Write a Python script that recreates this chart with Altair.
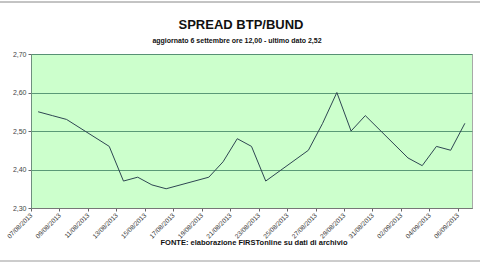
import altair as alt
import pandas as pd

dates = ["2013-08-07", "2013-08-08", "2013-08-09", "2013-08-12", "2013-08-13", "2013-08-14",
         "2013-08-15", "2013-08-16", "2013-08-19", "2013-08-20", "2013-08-21", "2013-08-22",
         "2013-08-23", "2013-08-26", "2013-08-27", "2013-08-28", "2013-08-29", "2013-08-30",
         "2013-09-02", "2013-09-03", "2013-09-04", "2013-09-05", "2013-09-06"]
spread = [2.55, 2.54, 2.53, 2.46, 2.37, 2.38,
          2.36, 2.35, 2.38, 2.42, 2.48, 2.46,
          2.37, 2.45, 2.52, 2.60, 2.50, 2.54,
          2.43, 2.41, 2.46, 2.45, 2.52]

title_text = "SPREAD BTP/BUND"
subtitle_text = "aggiornato 6 settembre ore 12,00 - ultimo dato 2,52"
footer_text = "FONTE: elaborazione FIRSTonline su dati di archivio"
y_ticks = [2.30, 2.40, 2.50, 2.60, 2.70]
tick_dates = pd.date_range("2013-08-07", "2013-09-06", freq="2D", tz="UTC")


def ms(ts):
    return int(pd.Timestamp(ts).value // 10**6)


df = pd.DataFrame({
    "t": [ms(pd.Timestamp(d, tz="UTC") + pd.Timedelta(hours=12)) for d in dates],
    "v": spread,
})
x_domain = [ms(pd.Timestamp("2013-08-07", tz="UTC")), ms(pd.Timestamp("2013-09-07", tz="UTC"))]
x_ticks = [ms(t) for t in tick_dates]

FONT = "Liberation Sans"

x_enc = alt.X(
    "t:Q",
    scale=alt.Scale(domain=x_domain, nice=False, zero=False),
    axis=alt.Axis(
        values=x_ticks,
        labelExpr="utcFormat(datum.value, '%d/%m/%Y')",
        labelAngle=-45, labelAlign="right", labelBaseline="middle",
        labelFontSize=6.5, labelColor="#333333", labelFont=FONT, labelPadding=3,
        tickSize=3, tickColor="#666666", domainColor="#777777",
        grid=False, title=None, labelOverlap=False, labelFlush=False,
    ),
)
y_enc = alt.Y(
    "v:Q",
    scale=alt.Scale(domain=[2.30, 2.70], nice=False, zero=False),
    axis=alt.Axis(
        values=y_ticks,
        labelExpr="replace(format(datum.value, '.2f'), '.', ',')",
        labelFontSize=7, labelColor="#444444", labelFont=FONT, labelPadding=2,
        tickSize=3, tickColor="#666666", domainColor="#6f8f7f",
        grid=True, gridColor="#4e8e6e", gridWidth=1, gridOpacity=0.9,
        title=None,
    ),
)

line = alt.Chart(df).mark_line(color="#2e4652", strokeWidth=1).encode(x=x_enc, y=y_enc)

ann = pd.DataFrame({"k": [0]})
title = alt.Chart(ann).mark_text(
    text=title_text, font=FONT, fontSize=13, fontWeight="bold", color="#111111",
    align="center", baseline="middle",
).encode(x=alt.value(210), y=alt.value(-29))
subtitle = alt.Chart(ann).mark_text(
    text=subtitle_text, font=FONT, fontSize=7, fontWeight="bold", color="#111111",
    align="center", baseline="middle",
).encode(x=alt.value(206), y=alt.value(-13))
footer = alt.Chart(ann).mark_text(
    text=footer_text, font=FONT, fontSize=7.5, fontWeight="bold", color="#111111",
    align="center", baseline="middle",
).encode(x=alt.value(223), y=alt.value(189))
top_rule = alt.Chart(ann).mark_rule(color="#888888", strokeWidth=1).encode(
    x=alt.value(-31), x2=alt.value(449), y=alt.value(-52))
bottom_rule = alt.Chart(ann).mark_rule(color="#999999", strokeWidth=1).encode(
    x=alt.value(-31), x2=alt.value(449), y=alt.value(207))

chart = alt.layer(line, title, subtitle, footer, top_rule, bottom_rule).properties(
    width=441, height=154,
    autosize=alt.AutoSizeParams(type="none"),
    padding={"left": 31, "top": 54, "right": 8, "bottom": 62},
    background="white",
).configure_view(
    fill="#ccffcc", stroke="#a8a8a8", strokeWidth=1,
)

chart.save("out.html", embed_options={"renderer": "svg", "actions": False})
